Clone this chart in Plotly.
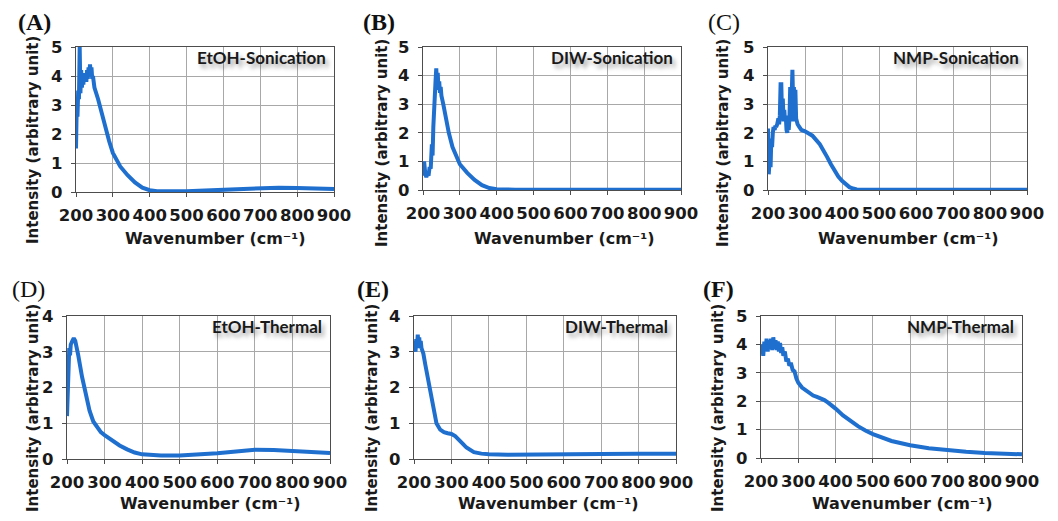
import plotly.graph_objects as go

PAGE_W, PAGE_H = 1058, 521
OFF = 8                      # default body margin of the page
W, H = PAGE_W - OFF, PAGE_H - OFF

# ---------------- data ----------------
a_x = [200, 202, 204, 206, 208, 210, 212, 214, 216, 218, 220, 222, 224, 226, 228, 230, 232, 234, 236, 238,
       240, 242, 244, 246, 248, 250, 260, 270, 280, 290, 300, 320, 340, 350, 360, 380, 400, 420, 450,
       500, 550, 600, 650, 700, 750, 800, 850, 900]
a_y = [1.5, 3.0, 2.6, 3.5, 3.2, 5.0, 3.4, 4.2, 3.6, 4.0, 3.7, 4.1, 3.8, 4.0, 3.8, 4.2, 3.9, 4.3, 4.0, 4.4,
       4.1, 4.3, 3.9, 4.0, 3.8, 3.6, 3.2, 2.7, 2.2, 1.75, 1.35, 0.88, 0.58, 0.45, 0.33, 0.15, 0.06, 0.03, 0.02,
       0.03, 0.05, 0.08, 0.12, 0.14, 0.15, 0.14, 0.12, 0.1]

b_x = [200, 203, 206, 209, 212, 215, 218, 221, 224, 226, 228, 230, 232, 234, 236, 238, 240, 242, 244, 246,
       248, 250, 255, 260, 270, 280, 290, 300, 320, 340, 360, 380, 400, 450, 900]
b_y = [0.5, 1.0, 0.6, 0.45, 0.6, 0.5, 0.8, 0.75, 1.6, 1.2, 2.2, 3.0, 3.4, 3.8, 4.25, 3.6, 4.1, 3.5, 3.8, 3.4,
       3.6, 3.3, 3.0, 2.6, 2.0, 1.5, 1.15, 0.9, 0.6, 0.35, 0.17, 0.07, 0.03, 0.01, 0.01]

c_x = [200, 202, 205, 207, 209, 211, 213, 215, 218, 220, 222, 225, 228, 230, 232, 234, 236, 238, 240, 242,
       244, 246, 248, 250, 252, 254, 256, 258, 260, 262, 264, 266, 268, 270, 272, 274, 276, 280, 285, 290,
       300, 320, 340, 350, 360, 370, 380, 390, 400, 410, 420, 430, 440, 460, 900]
c_y = [2.15, 0.55, 1.2, 0.8, 1.8, 1.5, 2.0, 2.2, 2.1, 2.25, 2.2, 2.3, 2.5, 2.3, 2.6, 3.7, 3.7, 2.5, 3.2, 2.4,
       2.8, 2.4, 2.6, 2.1, 2.0, 2.3, 2.1, 2.5, 3.6, 2.4, 3.5, 4.2, 3.0, 3.6, 2.4, 3.5, 2.5, 2.3, 2.2, 2.1,
       2.05, 1.9, 1.6, 1.4, 1.15, 0.9, 0.66, 0.47, 0.32, 0.2, 0.1, 0.05, 0.02, 0.01, 0.01]

d_x = [200, 203, 206, 208, 210, 214, 218, 222, 226, 230, 240, 250, 260, 270, 280, 290, 300, 320, 340, 360,
       380, 400, 450, 500, 550, 600, 650, 700, 750, 800, 850, 900]
d_y = [1.2, 2.6, 3.1, 2.9, 3.2, 3.3, 3.38, 3.3, 3.15, 2.9, 2.3, 1.75, 1.35, 1.05, 0.88, 0.75, 0.67, 0.52, 0.38, 0.27,
       0.18, 0.13, 0.1, 0.1, 0.12, 0.16, 0.21, 0.26, 0.25, 0.22, 0.19, 0.17]

e_x = [200, 202, 204, 206, 208, 210, 212, 214, 216, 218, 220, 225, 230, 240, 250, 260, 270, 280, 290, 300,
       310, 320, 330, 340, 350, 360, 380, 400, 450, 500, 600, 700, 800, 900]
e_y = [3.0, 3.3, 3.0, 3.35, 3.1, 3.48, 3.2, 3.4, 3.1, 3.3, 3.1, 2.95, 2.65, 2.1, 1.5, 1.0, 0.82, 0.75, 0.72, 0.7,
       0.64, 0.55, 0.43, 0.32, 0.24, 0.19, 0.15, 0.13, 0.12, 0.12, 0.13, 0.14, 0.15, 0.15]

f_x = [200, 203, 206, 209, 212, 215, 218, 221, 224, 227, 230, 233, 236, 239, 242, 245, 248, 251, 254, 257,
       260, 264, 268, 272, 276, 280, 285, 290, 295, 300, 310, 320, 330, 340, 350, 360, 370, 380, 390, 400,
       420, 440, 460, 480, 500, 550, 600, 650, 700, 750, 800, 850, 900]
f_y = [3.7, 4.0, 3.6, 4.1, 3.8, 4.2, 3.75, 4.15, 3.85, 4.2, 3.8, 4.25, 3.85, 4.15, 3.8, 4.1, 3.75, 4.05, 3.7, 3.9,
       3.6, 3.75, 3.4, 3.5, 3.25, 3.35, 3.1, 3.05, 2.8, 2.65, 2.48, 2.38, 2.28, 2.2, 2.15, 2.1, 2.04, 1.95, 1.85, 1.74,
       1.5, 1.3, 1.12, 0.97, 0.84, 0.6, 0.45, 0.34, 0.27, 0.22, 0.18, 0.15, 0.13]

panel_letters = ["(A)", "(B)", "(C)", "(D)", "(E)", "(F)"]
panel_names = ["EtOH-Sonication", "DIW-Sonication", "NMP-Sonication",
               "EtOH-Thermal", "DIW-Thermal", "NMP-Thermal"]
y_max = [5, 5, 5, 4, 4, 5]
x_title = "Wavenumber (cm\u207b\u00b9)"
y_title = "Intensity (arbitrary unit)"

series = [(a_x, a_y), (b_x, b_y), (c_x, c_y), (d_x, d_y), (e_x, e_y), (f_x, f_y)]

# ---------------- layout geometry (page pixels) ----------------
boxes = [(76, 334, 47, 192), (423, 681, 47, 190), (768, 1027, 47, 190),
         (67, 330, 316, 459), (414, 676, 316, 459), (761, 1022, 316, 458)]
letter_pos = [(34, 22), (379, 22), (724, 22), (28, 289), (373, 289), (718, 289)]
ytitle_pos = [(33, 140), (382, 143), (723, 143), (33, 408), (372, 408), (718, 408)]
xtitle_pos = [(215, 238), (564, 238), (908, 238), (210, 503), (548, 503), (902, 503)]
letter_bold = [True, True, False, False, True, True]


def px(x):
    return (x - OFF) / W


def py(y):
    return 1 - (y - OFF) / H


LINE = "#1f6fcf"
TICKFONT = dict(family="DejaVu Sans", size=16.5, color="#1a1a1a", weight="bold")

fig = go.Figure()
annotations = []
for i, ((xs, ys), (x0, x1, y0, y1)) in enumerate(zip(series, boxes)):
    n = "" if i == 0 else str(i + 1)
    fig.add_trace(go.Scatter(x=xs, y=ys, mode="lines", line=dict(color=LINE, width=4),
                             xaxis="x" + n, yaxis="y" + n, showlegend=False, hoverinfo="skip"))
    common = dict(showgrid=True, gridcolor="#a8a8a8", gridwidth=1, showline=True, linecolor="#4d4d4d",
                  linewidth=1.2, mirror=True, ticks="outside", ticklen=4, tickcolor="#4d4d4d",
                  tickfont=TICKFONT, zeroline=False, fixedrange=True, automargin=False)
    fig.update_layout(**{
        "xaxis" + n: dict(domain=[px(x0), px(x1)], range=[200, 900], dtick=100, tick0=200,
                          anchor="y" + n, ticklabelstandoff=4, **common),
        "yaxis" + n: dict(domain=[py(y1), py(y0)], range=[0, y_max[i]], dtick=1,
                          anchor="x" + n, ticklabelstandoff=5, **common),
    })
    # inset label
    annotations.append(dict(x=px(x1 - 6), y=py(y0 + 10), xref="paper", yref="paper",
                            xanchor="right", yanchor="middle", showarrow=False,
                            text="<b>" + panel_names[i] + "</b>",
                            font=dict(family="Lato", size=17, color="#1a1a1a",
                                      shadow="3px 4px 4px rgba(0,0,0,0.35)")))
    lx, ly = letter_pos[i]
    txt = panel_letters[i]
    if letter_bold[i]:
        txt = "<b>" + txt + "</b>"
    annotations.append(dict(x=px(lx), y=py(ly), xref="paper", yref="paper", xanchor="center",
                            yanchor="middle", showarrow=False, text=txt,
                            font=dict(family="Liberation Serif", size=24, color="#111")))
    tx, ty = ytitle_pos[i]
    annotations.append(dict(x=px(tx), y=py(ty), xref="paper", yref="paper", xanchor="center",
                            yanchor="middle", showarrow=False, textangle=-90, text="<b>" + y_title + "</b>",
                            font=dict(family="DejaVu Sans", size=15, color="#1a1a1a")))
    tx, ty = xtitle_pos[i]
    annotations.append(dict(x=px(tx), y=py(ty), xref="paper", yref="paper", xanchor="center",
                            yanchor="middle", showarrow=False, text="<b>" + x_title + "</b>",
                            font=dict(family="DejaVu Sans", size=16, color="#1a1a1a")))

fig.update_layout(width=W, height=H, margin=dict(l=0, r=0, t=0, b=0),
                  paper_bgcolor="white", plot_bgcolor="white", annotations=annotations)
fig.write_html("out.html")
